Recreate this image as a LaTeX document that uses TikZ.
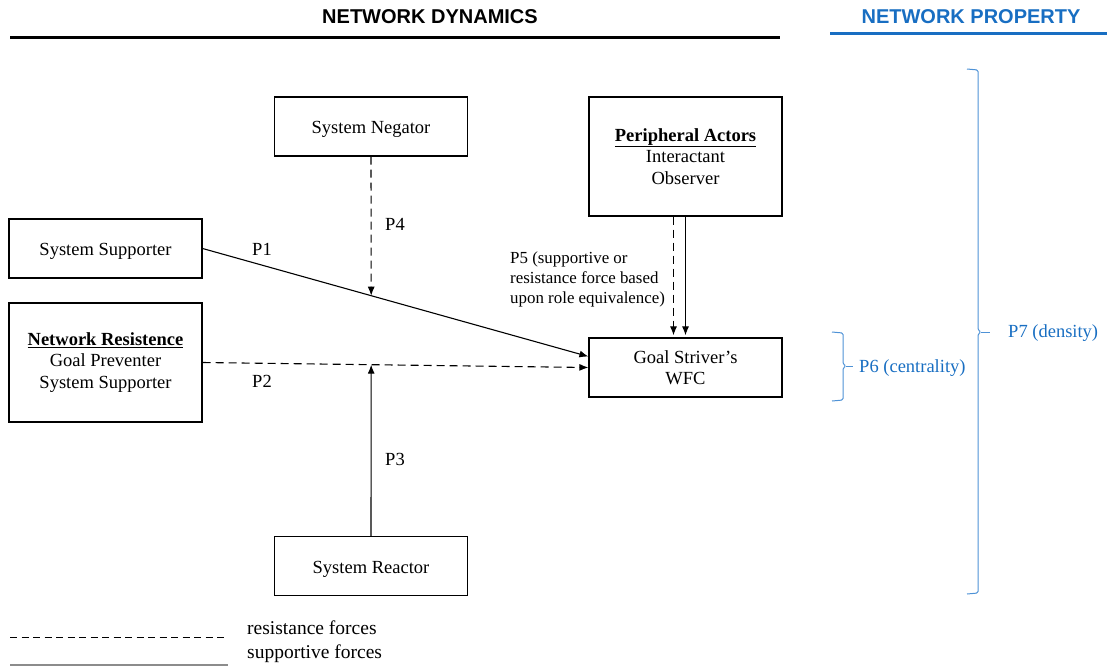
\documentclass[tikz,border=0pt]{standalone}
\usepackage{fontspec}
\setmainfont{Liberation Serif}
\newfontfamily\headfont{Liberation Sans}
\usetikzlibrary{arrows.meta}
\definecolor{propblue}{RGB}{24,110,194}
\definecolor{braceblue}{RGB}{78,146,214}

\begin{document}
\begin{tikzpicture}[x=1pt,y=-1pt,
    actor/.style={draw,line width=1.2pt,minimum width=193pt,minimum height=59pt,align=center,inner sep=2pt,font=\fontsize{18.5}{21.5}\selectfont,execute at begin node={\rule{0pt}{18pt}}},
    plabel/.style={font=\fontsize{18.5}{21.5}\selectfont},
    resistline/.style={dash pattern=on 8pt off 5pt},
    flow/.style={line width=1.1pt,-{Latex[length=9pt,width=7pt]}},
    brace/.style={color=braceblue,line width=1pt,rounded corners=1.5pt}]
    \useasboundingbox (0,0) rectangle (1107,667);

    % Headings over the two parts
    \node[font=\headfont\bfseries\fontsize{20}{24}\selectfont] (dynhead) at (430,17) {NETWORK DYNAMICS};
    \node[font=\headfont\bfseries\fontsize{20}{24}\selectfont,color=propblue] (prophead) at (971,17) {NETWORK PROPERTY};
    \draw[line width=3pt,color=black] (10,37) -- (780,37);
    \draw[line width=3pt,color=propblue] (830,33) -- (1107,33);

    % The actors
    \node[actor] (negator) at (371,126.5) {System Negator};
    \node[actor,minimum height=119pt] (peripheral) at (685.5,156.5) {\textbf{\underline{Peripheral Actors}}\\Interactant\\Observer};
    \node[actor] (supporter) at (105.5,248.5) {System Supporter};
    \node[actor,minimum height=119pt] (resistence) at (105.5,362.5) {\textbf{\underline{Network Resistence}}\\Goal Preventer\\System Supporter};
    \node[actor] (striver) at (685.5,367.5) {Goal Striver's\\WFC};
    \node[actor] (reactor) at (371,566) {System Reactor};

    % The forces
    \draw[flow] (supporter.east) -- ([yshift=11pt]striver.west) coordinate[pos=0.437] (hitone);
    \draw[flow,resistline] (resistence.east) -- (striver.west) coordinate[pos=0.437] (hittwo);
    \draw[flow,resistline] (negator.south) -- (hitone);
    \draw[flow] (reactor.north) -- (hittwo);
    \draw[flow,resistline] ([xshift=-12pt]peripheral.south) -- ([xshift=-12pt,yshift=2pt]striver.north);
    \draw[flow] (peripheral.south) -- ([yshift=2pt]striver.north);

    \node[plabel] (pone) at (262,249) {P1};
    \node[plabel] (ptwo) at (262,381) {P2};
    \node[plabel] (pthree) at (395,459) {P3};
    \node[plabel] (pfour) at (395,224) {P4};
    \node[anchor=west,align=left,inner sep=0pt,font=\fontsize{16.9}{20}\selectfont] (pfive) at (510,279) {P5 (supportive or\\resistance force based\\upon role equivalence)};

    % Network property brackets
    \draw[brace] (832,332) -- (843,333) -- (843,364) -- (846,366) -- (843,368) -- (843,400) -- (832,401);
    \draw[brace] (846,366) -- (853,366);
    \draw[brace] (967,69) -- (978,70) -- (978,330) -- (981,332) -- (978,334) -- (978,593) -- (967,594);
    \draw[brace] (981,332) -- (990,332);
    \node[anchor=west,inner sep=0pt,color=propblue,font=\fontsize{18.5}{21.5}\selectfont] (psix) at (859,368) {P6 (centrality)};
    \node[anchor=west,inner sep=0pt,color=propblue,font=\fontsize{18.5}{21.5}\selectfont] (pseven) at (1008,333) {P7 (density)};

    % Legend
    \draw[line width=1pt,dash pattern=on 7pt off 4.5pt] (10,637) -- (228,637);
    \draw[line width=2pt,color=black!45] (10,665) -- (228,665);
    \node[anchor=west,inner sep=0pt,font=\fontsize{19.5}{22}\selectfont] (resistkey) at (247,628) {resistance forces};
    \node[anchor=west,inner sep=0pt,font=\fontsize{19.5}{22}\selectfont] (supportkey) at (247,654) {supportive forces};
  \end{tikzpicture}
\end{document}
